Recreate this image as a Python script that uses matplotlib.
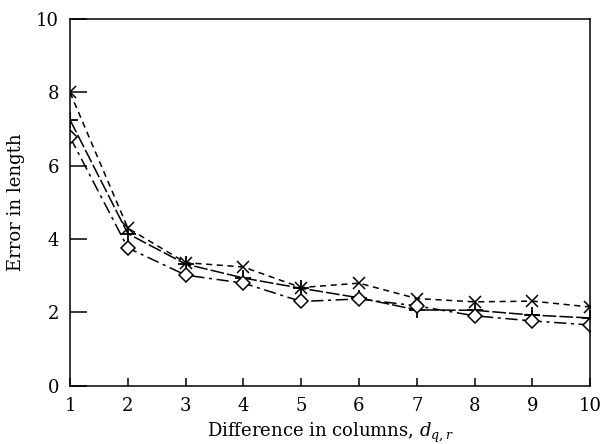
import matplotlib
matplotlib.use("Agg")
import matplotlib.pyplot as plt
import numpy as np

plt.rcParams['font.family'] = ['DejaVu Serif']
plt.rcParams['mathtext.fontset'] = 'dejavuserif'

cols = [1, 2, 3, 4, 5, 6, 7, 8, 9, 10]
err_x = [8.0, 4.3, 3.36, 3.24, 2.68, 2.8, 2.38, 2.29, 2.31, 2.15]
err_plus = [7.25, 4.15, 3.32, 2.94, 2.66, 2.4, 2.07, 2.06, 1.93, 1.85]
err_diamond = [6.78, 3.76, 3.02, 2.8, 2.3, 2.37, 2.18, 1.91, 1.77, 1.66]

fig = plt.figure(figsize=(6.04, 4.44), dpi=100)
ax = fig.add_axes([0.116, 0.131, 0.861, 0.826])

ax.plot(cols, err_x, color='black', lw=1.1, ls=(0, (4, 3)),
        marker='x', ms=8, mew=1.1)
ax.plot(cols, err_plus, color='black', lw=1.1, ls=(0, (9, 2)),
        marker='+', ms=11, mew=1.3)
ax.plot(cols, err_diamond, color='black', lw=1.1, ls=(0, (8, 3, 2, 3)),
        marker='D', ms=7, mfc='white', mew=1.1)

ax.set_xlim(1, 10)
ax.set_ylim(0, 10)
ax.set_xticks(cols)
ax.set_yticks([0, 2, 4, 6, 8, 10])
ax.tick_params(direction='in', length=12, width=1.1, labelsize=13, pad=8)
ax.tick_params(axis='x', length=6)
for s in ax.spines.values():
    s.set_linewidth(1.1)

ax.set_xlabel(r'Difference in columns, $d_{q,r}$', fontsize=13, labelpad=4)
ax.set_ylabel('Error in length', fontsize=13, labelpad=8)

fig.savefig('out.png', dpi=100)
